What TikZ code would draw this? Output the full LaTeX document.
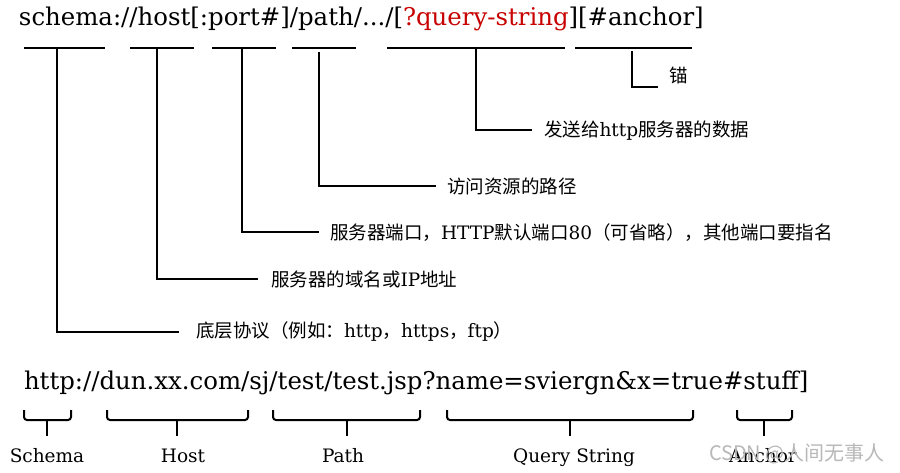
\documentclass[tikz,border=0pt]{standalone}
\usepackage{fontspec}
\setmainfont{DejaVu Serif}
\newfontfamily\cjk{Noto Sans CJK SC}
\definecolor{qred}{RGB}{200,0,0}
\begin{document}
\begin{tikzpicture}[x=1pt,y=-1pt,line width=2pt,
  bigtxt/.style={inner sep=0pt,anchor=base west,font=\fontsize{24.4}{28}\selectfont},
  lab/.style={inner sep=0pt,anchor=west,font=\fontsize{18.5}{22}\selectfont},
  blab/.style={inner sep=0pt,anchor=base,font=\fontsize{18.5}{22}\selectfont},
  brk/.style={rounded corners=3pt},
  wm/.style={inner sep=0pt,anchor=base west,text=black!28,font=\cjk\fontsize{20}{24}\selectfont}]
\useasboundingbox (0,0) rectangle (900,473);
\fill[white] (0,0) rectangle (900,473);
% top template
\node[bigtxt] (tmpl) at (18,26) {schema://host[:port\#]/path/.../[\textcolor{qred}{?query-string}][\#anchor]};
% underlines
\coordinate (u1a) at (24,48);  \coordinate (u1b) at (105,48);
\coordinate (u2a) at (130,48); \coordinate (u2b) at (194,48);
\coordinate (u3a) at (212,48); \coordinate (u3b) at (276,48);
\coordinate (u4a) at (292,48); \coordinate (u4b) at (356,48);
\coordinate (u5a) at (387,48); \coordinate (u5b) at (565,48);
\coordinate (u6a) at (575,48); \coordinate (u6b) at (692,48);
\foreach \i in {1,...,6}{\draw (u\i a) -- (u\i b);}
% labels
\node[lab] (l6) at (668,76) {\cjk 锚};
\node[lab] (l5) at (543,131) {{\cjk 发送给}http{\cjk 服务器的数据}};
\node[lab] (l4) at (446,186) {\cjk 访问资源的路径};
\node[lab] (l3) at (329,233) {{\cjk 服务器端口，}HTTP{\cjk 默认端口}80{\cjk （可省略），其他端口要指名}};
\node[lab] (l2) at (270,279) {{\cjk 服务器的域名或}IP{\cjk 地址}};
\node[lab] (l1) at (195,332) {{\cjk 底层协议（例如：}http{\cjk ，}https{\cjk ，}ftp{\cjk ）}};
% elbow connectors
\coordinate (e6) at (658,87);
\coordinate (e5) at (532,130);
\coordinate (e4) at (436,186);
\coordinate (e3) at (319,232);
\coordinate (e2) at (258,279);
\coordinate (e1) at (179,332);
\draw (632,51) |- (e6);
\draw (476,48) |- (e5);
\draw (319,52) |- (e4);
\draw (242,48) |- (e3);
\draw (157,48) |- (e2);
\draw (57,48) |- (e1);
% example URL
\node[bigtxt] (url) at (23,389) {http://dun.xx.com/sj/test/test.jsp?name=sviergn\&x=true\#stuff]};
% braces
\foreach \a/\c/\b/\n in {24/47/71/b1,107/177/248/b2,273/347/420/b3,447/570/693/b4,737/764/792/b5}{
  \draw[brk] (\a,410) |- (\c,420) -| (\b,410);
  \draw (\c,420) -- (\c,436);
  \coordinate (\n) at (\c,436);
}
\node[blab] (s1) at (47,462) {Schema};
\node[blab] (s2) at (183,462) {Host};
\node[blab] (s3) at (343,462) {Path};
\node[blab] (s4) at (574,462) {Query String};
\node[blab] (s5) at (763,462) {Anchor};
\node[wm] (wm) at (708,460) {CSDN @人间无事人};
\end{tikzpicture}
\end{document}
